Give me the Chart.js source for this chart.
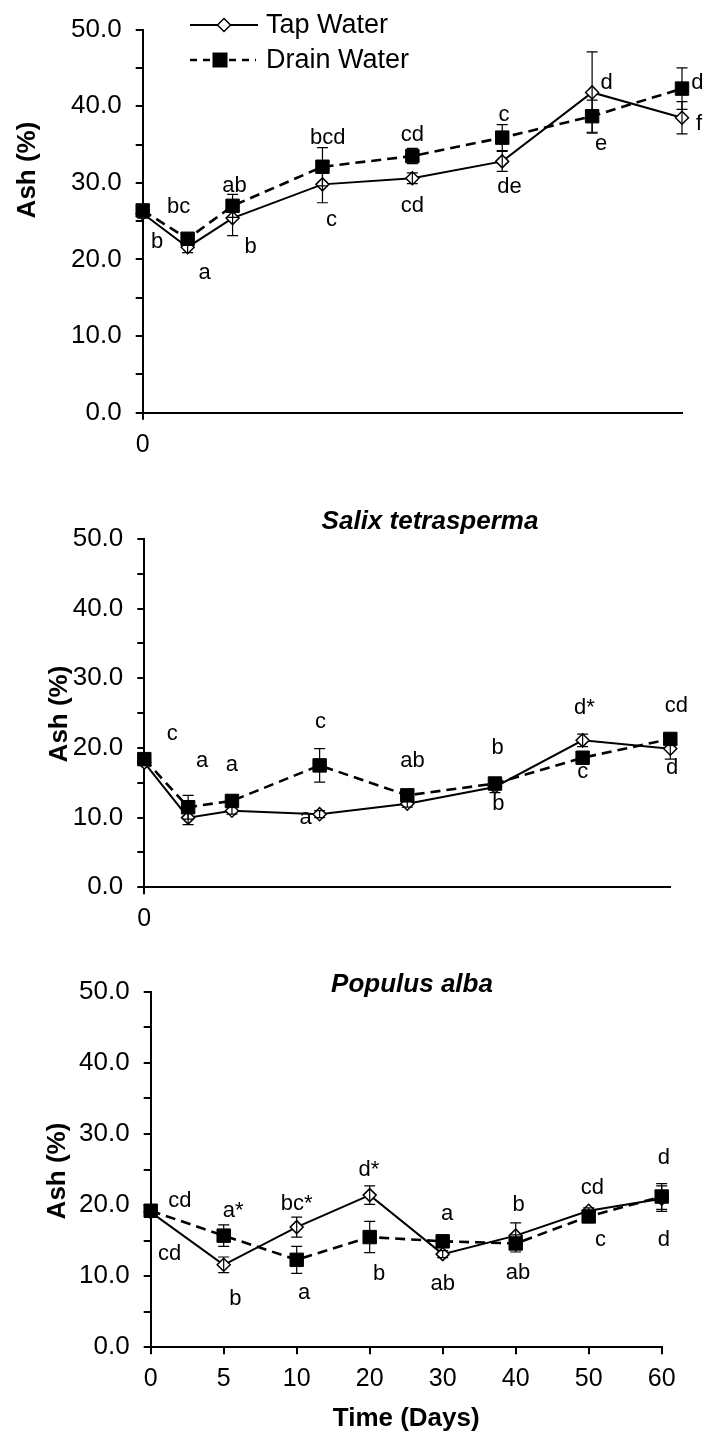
<!DOCTYPE html>
<html>
<head>
<meta charset="utf-8">
<script src="https://cdn.jsdelivr.net/npm/chart.js@4.4.1/dist/chart.umd.min.js"></script>
<style>
  html, body { margin: 0; padding: 0; background: #fff; }
  #page { position: relative; width: 706px; height: 1435px; background: #fff; overflow: hidden; }
  canvas { position: absolute; left: 0; }
</style>
</head>
<body>
<div id="page">
  <canvas id="ash-top" width="706" height="470" style="top:0px"></canvas>
  <canvas id="ash-salix" width="706" height="490" style="top:470px"></canvas>
  <canvas id="ash-populus" width="706" height="475" style="top:960px"></canvas>
</div>
<script>
const days = [0, 5, 10, 20, 30, 40, 50, 60];
const dayLabels = ['0', '5', '10', '20', '30', '40', '50', '60'];

// top panel (no species title)
const topTap = [26.0, 21.6, 25.4, 29.8, 30.6, 32.8, 41.8, 38.5];
const topTapErr = [0.6, 0.7, 2.3, 2.4, 0.7, 1.3, 5.3, 2.1];
const topDrain = [26.4, 22.7, 27.0, 32.1, 33.5, 35.9, 38.7, 42.3];
const topDrainErr = [0.5, 0.6, 1.5, 2.5, 1.0, 1.7, 2.1, 2.7];

// Salix tetrasperma
const salixTap = [17.9, 10.0, 11.0, 10.5, 12.0, 14.4, 21.1, 19.9];
const salixTapErr = [0.4, 1.0, 0.5, 0.5, 0.5, 0.8, 0.9, 1.5];
const salixDrain = [18.4, 11.5, 12.4, 17.5, 13.2, 14.9, 18.6, 21.3];
const salixDrainErr = [0.4, 1.7, 0.5, 2.4, 0.5, 0.6, 0.7, 0.5];

// Populus alba
const populusTap = [19.0, 11.6, 16.9, 21.4, 13.1, 15.7, 19.2, 20.9];
const populusTapErr = [0.4, 1.1, 1.4, 1.3, 0.5, 1.8, 0.4, 1.8];
const populusDrain = [19.2, 15.7, 12.3, 15.5, 14.9, 14.6, 18.4, 21.2];
const populusDrainErr = [0.4, 1.5, 1.9, 2.2, 0.7, 1.2, 0.4, 1.8];

// significance letters: [x (day or category index), y (ash %), text]
const topLetters = [
    [1.6, 22.3, 'b'], [4.0, 26.9, 'bc'], [6.9, 18.2, 'a'], [10.2, 29.6, 'ab'], [12.0, 21.6, 'b'],
    [20.6, 35.9, 'bcd'], [21.0, 25.1, 'c'], [30.0, 36.2, 'cd'], [30.0, 27.0, 'cd'],
    [40.2, 38.9, 'c'], [40.8, 29.5, 'de'], [51.6, 43.1, 'd'], [51.0, 35.1, 'e'],
    [61.7, 43.1, 'd'], [61.9, 37.7, 'f'],
];
const salixLetters = [
    [3.2, 22.0, 'c'], [6.6, 18.1, 'a'], [10.0, 17.6, 'a'], [20.1, 23.8, 'c'], [18.4, 10.0, 'a'],
    [30.6, 18.1, 'ab'], [40.3, 20.0, 'b'], [40.4, 12.0, 'b'], [50.2, 25.7, 'd*'], [50.0, 16.5, 'c'],
    [60.7, 26.1, 'cd'], [60.2, 17.1, 'd'],
];
const populusLetters = [
    [0.4, 20.6, 'cd'], [0.26, 13.1, 'cd'], [1.13, 19.2, 'a*'], [1.16, 6.8, 'b'],
    [2.0, 20.1, 'bc*'], [2.1, 7.7, 'a'], [2.99, 24.9, 'd*'], [3.13, 10.3, 'b'],
    [4.06, 18.8, 'a'], [4.0, 8.9, 'ab'], [5.04, 20.0, 'b'], [5.03, 10.4, 'ab'],
    [6.05, 22.4, 'cd'], [6.16, 15.1, 'c'], [7.03, 26.6, 'd'], [7.03, 15.1, 'd'],
];

const FONT = '"Liberation Sans", Arial, Helvetica, sans-serif';
Chart.defaults.font.family = FONT;
Chart.defaults.color = '#000';

const errorBars = {
    id: 'errorBars',
    afterDatasetsDraw(chart) {
        const { ctx } = chart;
        const y = chart.scales.y;
        ctx.save();
        ctx.strokeStyle = '#000';
        ctx.lineWidth = 1.2;
        chart.data.datasets.forEach((ds, i) => {
            const meta = chart.getDatasetMeta(i);
            meta.data.forEach((pt, j) => {
                const v = meta.controller.getParsed(j).y;
                const e = ds.err[j];
                const top = y.getPixelForValue(v + e);
                const bot = y.getPixelForValue(v - e);
                ctx.beginPath();
                ctx.moveTo(pt.x, top); ctx.lineTo(pt.x, bot);
                ctx.moveTo(pt.x - 5.5, top); ctx.lineTo(pt.x + 5.5, top);
                ctx.moveTo(pt.x - 5.5, bot); ctx.lineTo(pt.x + 5.5, bot);
                ctx.stroke();
            });
        });
        ctx.restore();
    },
};

const letters = {
    id: 'letters',
    afterDatasetsDraw(chart, args, opts) {
        const { ctx, scales: { x, y } } = chart;
        ctx.save();
        ctx.fillStyle = '#000';
        ctx.font = '22px ' + FONT;
        ctx.textAlign = 'center';
        ctx.textBaseline = 'middle';
        for (const [dx, dy, t] of opts.items || []) {
            ctx.fillText(t, x.getPixelForValue(dx), y.getPixelForValue(dy));
        }
        ctx.restore();
    },
};

function drawMarker(ctx, style, cx, cy, r) {
    ctx.beginPath();
    if (style === 'rectRot') {
        ctx.moveTo(cx, cy - r); ctx.lineTo(cx + r, cy);
        ctx.lineTo(cx, cy + r); ctx.lineTo(cx - r, cy);
        ctx.closePath();
        ctx.fillStyle = '#fff'; ctx.fill();
        ctx.lineWidth = 1.5; ctx.strokeStyle = '#000'; ctx.stroke();
    } else {
        ctx.rect(cx - r, cy - r, 2 * r, 2 * r);
        ctx.fillStyle = '#000'; ctx.fill();
    }
}

// titles, rotated axis title and the legend
const decor = {
    id: 'decor',
    afterDraw(chart, args, opts) {
        const { ctx } = chart;
        ctx.save();
        for (const t of opts.texts || []) {
            ctx.save();
            ctx.translate(t.x, t.y);
            if (t.rotate) ctx.rotate(t.rotate);
            ctx.font = t.font;
            ctx.fillStyle = '#000';
            ctx.textAlign = 'center';
            ctx.textBaseline = 'middle';
            ctx.fillText(t.text, 0, 0);
            ctx.restore();
        }
        for (const item of opts.legend || []) {
            ctx.beginPath();
            ctx.setLineDash(item.dash);
            ctx.lineWidth = item.width;
            ctx.strokeStyle = '#000';
            ctx.moveTo(item.x0, item.y); ctx.lineTo(item.x1, item.y);
            ctx.stroke();
            ctx.setLineDash([]);
            drawMarker(ctx, item.style, item.mx, item.y, item.r);
            ctx.fillStyle = '#000';
            ctx.font = '27px ' + FONT;
            ctx.textAlign = 'left';
            ctx.textBaseline = 'middle';
            ctx.fillText(item.label, item.tx, item.y + 1);
        }
        ctx.restore();
    },
};

const tapStyle = {
    borderColor: '#000', borderWidth: 2,
    pointStyle: 'rectRot', pointRadius: 6.5,
    pointBackgroundColor: '#fff', pointBorderColor: '#000', pointBorderWidth: 1.5,
    order: 1,
};
const drainStyle = {
    borderColor: '#000', borderWidth: 2.6, borderDash: [10, 6],
    pointStyle: 'rect', pointRadius: 9.5,
    pointBackgroundColor: '#000', pointBorderColor: '#000', pointBorderWidth: 1,
    order: 0,
};

function ashChart(id, cfg) {
    const canvas = document.getElementById(id);
    const H = canvas.height;
    const linear = cfg.xType === 'linear';
    const toData = vals => linear ? days.map((d, i) => ({ x: d, y: vals[i] })) : vals;
    const axisLine = { display: true, color: '#000', width: 2 };
    const tickMarks = { display: true, drawOnChartArea: false, drawTicks: true, tickLength: 7, color: '#000', lineWidth: 2 };

    return new Chart(canvas, {
        type: 'line',
        data: {
            labels: linear ? undefined : dayLabels,
            datasets: [
                { label: 'Tap Water', data: toData(cfg.tap), err: cfg.tapErr, clip: false, ...tapStyle },
                { label: 'Drain Water', data: toData(cfg.drain), err: cfg.drainErr, clip: false, ...drainStyle },
            ],
        },
        options: {
            responsive: false,
            animation: false,
            layout: { padding: { top: cfg.area.top, right: 706 - cfg.area.right, left: 0, bottom: 0 } },
            plugins: {
                legend: { display: false },
                tooltip: { enabled: false },
                letters: { items: cfg.letters },
                decor: { texts: cfg.texts, legend: cfg.legend },
            },
            scales: {
                x: {
                    type: cfg.xType,
                    min: linear ? 0 : undefined,
                    max: linear ? 60 : undefined,
                    afterBuildTicks: linear ? s => { s.ticks = [{ value: 0 }]; } : undefined,
                    afterFit: s => { s.height = H - cfg.area.bottom; },
                    border: axisLine,
                    grid: tickMarks,
                    ticks: { font: { size: 25 }, padding: 10, maxRotation: 0, autoSkip: false },
                    title: cfg.xTitle
                        ? { display: true, text: cfg.xTitle, font: { size: 26, weight: 'bold' }, padding: { top: 0, bottom: 1 } }
                        : { display: false },
                },
                y: {
                    min: 0,
                    max: 50,
                    afterFit: s => { s.width = cfg.area.left; },
                    border: axisLine,
                    grid: tickMarks,
                    ticks: {
                        stepSize: 5,
                        autoSkip: false,
                        padding: 14,
                        font: { size: 26 },
                        callback: v => v % 10 === 0 ? v.toFixed(1) : '',
                    },
                },
            },
        },
        plugins: [errorBars, letters, decor],
    });
}

const yTitleFont = 'bold 26px ' + FONT;
const speciesFont = 'italic bold 26px ' + FONT;

ashChart('ash-top', {
    xType: 'linear',
    tap: topTap, tapErr: topTapErr, drain: topDrain, drainErr: topDrainErr,
    letters: topLetters,
    area: { top: 23.3, bottom: 412.7, left: 142.7, right: 682 },
    texts: [{ text: 'Ash (%)', x: 28, y: 170, font: yTitleFont, rotate: -Math.PI / 2 }],
    legend: [
        { label: 'Tap Water', y: 25, x0: 190, x1: 258, mx: 224, r: 6.5, style: 'rectRot', dash: [], width: 2, tx: 266 },
        { label: 'Drain Water', y: 60, x0: 190, x1: 256, mx: 220, r: 7.5, style: 'rect', dash: [7, 6], width: 2.6, tx: 266 },
    ],
});

ashChart('ash-salix', {
    xType: 'linear',
    tap: salixTap, tapErr: salixTapErr, drain: salixDrain, drainErr: salixDrainErr,
    letters: salixLetters,
    area: { top: 69, bottom: 417.3, left: 144.3, right: 670.3 },
    texts: [
        { text: 'Salix tetrasperma', x: 430, y: 51.7, font: speciesFont },
        { text: 'Ash (%)', x: 60, y: 244, font: yTitleFont, rotate: -Math.PI / 2 },
    ],
});

ashChart('ash-populus', {
    xType: 'category',
    tap: populusTap, tapErr: populusTapErr, drain: populusDrain, drainErr: populusDrainErr,
    letters: populusLetters,
    area: { top: 31.7, bottom: 387.3, left: 150.7, right: 661.7 },
    xTitle: 'Time (Days)',
    texts: [
        { text: 'Populus alba', x: 412, y: 25, font: speciesFont },
        { text: 'Ash (%)', x: 57.5, y: 211, font: yTitleFont, rotate: -Math.PI / 2 },
    ],
});
</script>
</body>
</html>
